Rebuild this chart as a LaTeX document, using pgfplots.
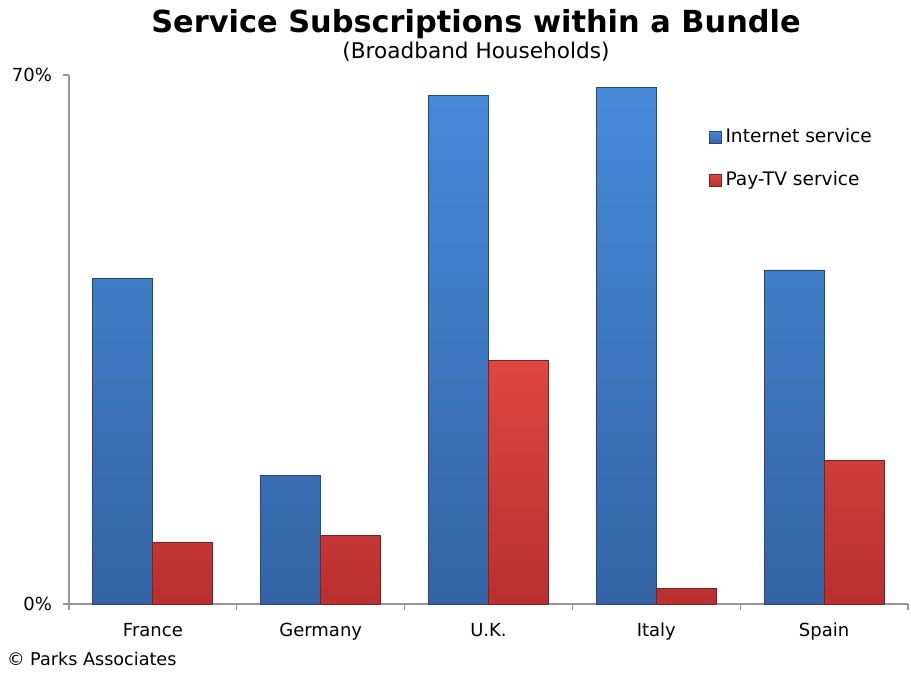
\documentclass[border=0pt]{standalone}
\usepackage{pgfplots}
\pgfplotsset{compat=1.18}
\usepackage{fontspec}
\setmainfont{DejaVu Sans}

\definecolor{blueT}{RGB}{70,138,218}
\definecolor{blueB}{RGB}{52,100,165}
\definecolor{blueE}{RGB}{40,70,120}
\definecolor{redT}{RGB}{222,70,64}
\definecolor{redB}{RGB}{185,48,46}
\definecolor{redE}{RGB}{120,35,35}
\definecolor{axgray}{RGB}{150,150,150}

\begin{document}
\begin{tikzpicture}[x=1pt,y=1pt]
% page frame: 911 x 674 px at 0.5pt per px, origin at axis lower left
\useasboundingbox (-34.5,-35) rectangle (421,302);
\begin{axis}[
    at={(0,0)}, anchor=south west,
    scale only axis,
    width=419.5pt, height=264.5pt,
    ybar=0pt, bar width=30pt,
    xmin=-0.5, xmax=4.5,
    ymin=0, ymax=70,
    axis x line*=bottom, axis y line*=left,
    axis line style={axgray, line width=0.6pt},
    % tick marks sit on the group boundaries, names on the centres
    xtick={-0.5,0.5,1.5,2.5,3.5,4.5},
    xticklabels={},
    x tick style={draw=axgray, line width=0.6pt},
    extra x ticks={0,1,2,3,4},
    extra x tick labels={France,Germany,U.K.,Italy,Spain},
    extra x tick style={major tick length=0pt, tick style={draw=none}},
    ytick={0,70},
    yticklabels={0\%,70\%},
    y tick style={draw=axgray, line width=0.6pt},
    major tick length=3pt, tick align=outside,
    tick label style={font=\fontsize{9}{10}\selectfont},
    xticklabel style={yshift=-6pt},
    yticklabel style={xshift=-2pt},
    legend style={draw=none, fill=none, at={(0.762,0.907)}, anchor=north west,
        font=\fontsize{9.3}{10}\selectfont,
        row sep=9pt, inner sep=0pt},
    legend cell align=left,
    legend image code/.code={\draw[#1] (0cm,-3pt) rectangle (6pt,3pt);},
    clip=false,
]
\addplot[draw=blueE, top color=blueT, bottom color=blueB] coordinates {
    (0,43.1) (1,17.0) (2,67.3) (3,68.3) (4,44.2)};
\addlegendentry{Internet service}
\addplot[draw=redE, top color=redT, bottom color=redB] coordinates {
    (0,8.1) (1,9.1) (2,32.2) (3,2.1) (4,19.0)};
\addlegendentry{Pay-TV service}
\end{axis}
% titles and source note
\node[anchor=base, font=\bfseries\fontsize{15.2}{17}\selectfont] at (203.5,285.5) {Service Subscriptions within a Bundle};
\node[anchor=base, font=\fontsize{10.8}{12}\selectfont] at (203.5,272.5) {(Broadband Households)};
\node[anchor=base west, font=\fontsize{8.8}{10}\selectfont] at (-34.5,-31) {© Parks Associates};
\end{tikzpicture}
\end{document}
